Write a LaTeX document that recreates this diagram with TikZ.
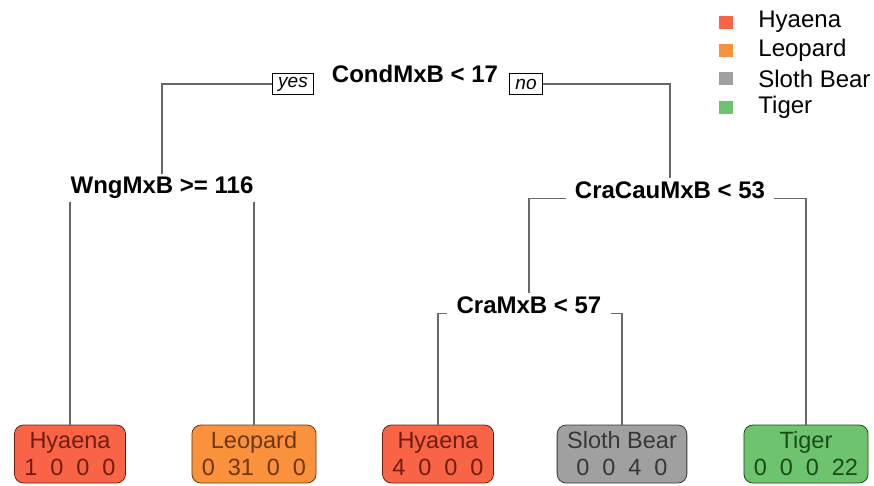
\documentclass[tikz,border=0pt]{standalone}
\usepackage{fontspec}
\setmainfont{Liberation Sans}
\usepackage{tikz}
\usetikzlibrary{positioning,calc}
\definecolor{hyfill}{RGB}{250,100,70}
\definecolor{hydark}{RGB}{110,30,15}
\definecolor{leofill}{RGB}{250,145,60}
\definecolor{leodark}{RGB}{110,55,10}
\definecolor{slfill}{RGB}{160,160,160}
\definecolor{sldark}{RGB}{55,55,55}
\definecolor{tgfill}{RGB}{110,195,110}
\definecolor{tgdark}{RGB}{25,75,25}
\definecolor{ecol}{RGB}{105,105,105}
\newcommand{\gp}{\hspace{0.55em}}

\begin{document}
\begin{tikzpicture}[
  x=1pt, y=-1pt,
  split/.style={font=\fontsize{24}{27}\selectfont\bfseries, inner xsep=9pt, inner ysep=3pt},
  leaf/.style={draw, line width=0.8pt, rounded corners=9pt, align=center, inner xsep=10pt,
    minimum height=58pt, font=\fontsize{23.5}{27}\selectfont},
  yesno/.style={draw, line width=0.7pt, font=\fontsize{19}{21}\selectfont\itshape,
    minimum height=21pt, inner xsep=6pt, inner ysep=1pt},
  edge/.style={draw=ecol, line width=1.3pt},
  legtext/.style={font=\fontsize{24}{27}\selectfont, anchor=west, inner sep=0pt},
  legbox/.style={minimum width=14pt, minimum height=13pt, inner sep=0pt}]
\useasboundingbox (0,0) rectangle (874,485);
% split labels
\node[split] (root) at (415,74) {CondMxB < 17};
\node[yesno] (yes) at (293,84) {yes};
\node[yesno] (no) at (526,84) {no};
\node[split] (wng) at (162,188) {WngMxB >= 116};
\node[split] (cracau) at (670,190) {CraCauMxB < 53};
\node[split] (cramx) at (529,305) {CraMxB < 57};
% leaves
\node[leaf, fill=hyfill, draw=hydark, text=hydark] (hy1) at (70,454) {Hyaena\\1\gp0\gp0\gp0};
\node[leaf, fill=leofill, draw=leodark, text=leodark] (leo) at (254,454) {Leopard\\0\gp31\gp0\gp0};
\node[leaf, fill=hyfill, draw=hydark, text=hydark] (hy2) at (438,454) {Hyaena\\4\gp0\gp0\gp0};
\node[leaf, fill=slfill, draw=sldark, text=sldark] (sloth) at (622,454) {Sloth Bear\\0\gp0\gp4\gp0};
\node[leaf, fill=tgfill, draw=tgdark, text=tgdark] (tiger) at (806,454) {Tiger\\0\gp0\gp0\gp22};
% connectors
\draw[edge] (yes.west) -| (wng.north);
\draw[edge] (no.east) -| (cracau.north);
\draw[edge] (hy1.north) -- (hy1.north |- wng.south);
\draw[edge] (leo.north) -- (leo.north |- wng.south);
\draw[edge] (cracau.base west) -| (cramx.north);
\draw[edge] (cracau.base east) -| (tiger.north);
\draw[edge] (cramx.base west) -| (hy2.north);
\draw[edge] (cramx.base east) -| (sloth.north);
% legend
\node[legbox, fill=hyfill] (k1) at (726,22) {};
\node[legbox, fill=leofill, below=15pt of k1] (k2) {};
\node[legbox, fill=slfill, below=15pt of k2] (k3) {};
\node[legbox, fill=tgfill, below=15pt of k3] (k4) {};
\node[legtext, right=25pt of k1] (t1) {Hyaena};
\node[legtext, right=25pt of k2] (t2) {Leopard};
\node[legtext, right=25pt of k3] (t3) {Sloth Bear};
\node[legtext, right=25pt of k4] (t4) {Tiger};
\end{tikzpicture}
\end{document}
